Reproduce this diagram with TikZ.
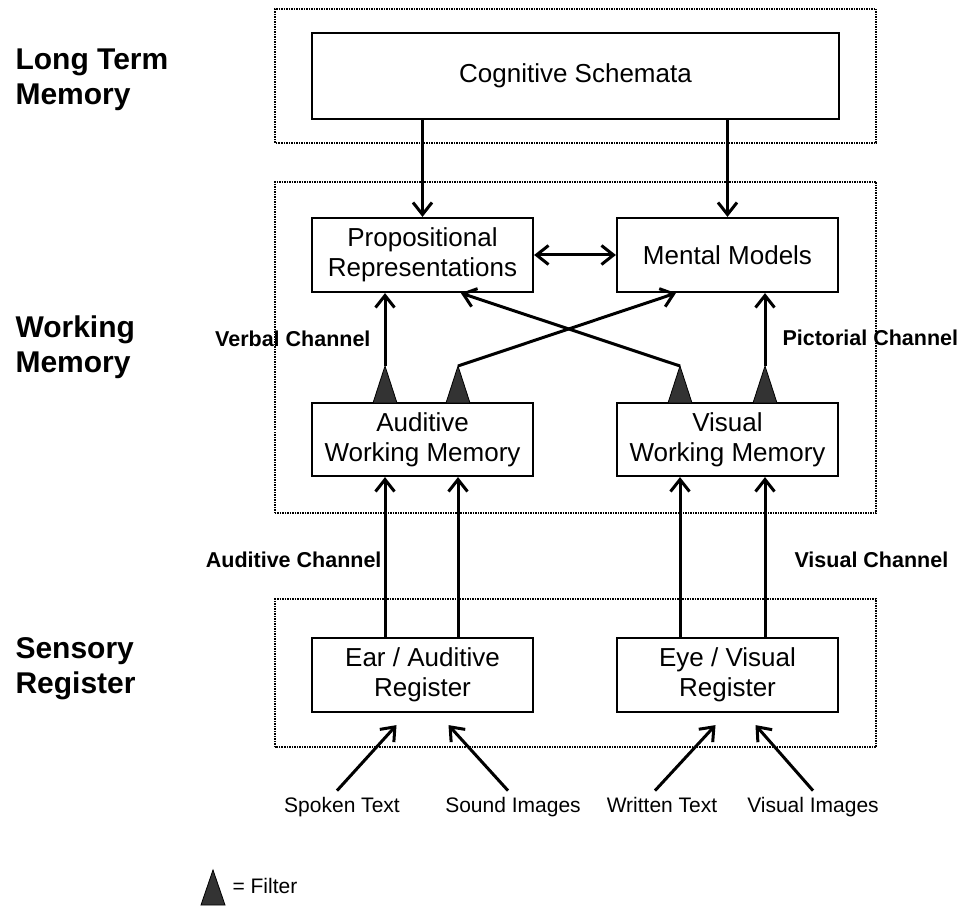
\documentclass[tikz,border=0pt]{standalone}
\usepackage{fontspec}
\setmainfont{Liberation Sans}
\usetikzlibrary{arrows.meta}

\begin{document}
\begin{tikzpicture}[
    x=1pt, y=1pt,
    >={Straight Barb[length=12pt, width=19pt]},
    box/.style={draw, line width=2.2pt, minimum width=221pt, minimum height=74pt,
      inner sep=0pt, align=center, font=\fontsize{26}{30}\selectfont},
    zone/.style={draw, densely dotted, line width=1.5pt},
    level/.style={anchor=west, align=left, font=\bfseries\fontsize{30}{35}\selectfont},
    channel/.style={font=\bfseries\fontsize{21.5}{25}\selectfont},
    source/.style={font=\fontsize{21}{25}\selectfont, text height=0.75em, text depth=0.22em},
    conn/.style={line width=3pt},
    filter/.style={fill=black!80, draw=black, line width=0.8pt}
  ]
  \useasboundingbox (0,0) rectangle (960,906);

  % memory stores
  \draw[zone] (275,763) rectangle (876,897);
  \draw[zone] (275,393) rectangle (876,724);
  \draw[zone] (275,159) rectangle (876,307);

  \node[level] (ltm) at (12,826.5) {Long Term\\Memory};
  \node[level] (wm) at (12,558.5) {Working\\Memory};
  \node[level] (sr) at (12,237) {Sensory\\Register};

  \node[box, minimum width=527pt, minimum height=86pt] (schema) at (575.5,830) {Cognitive Schemata};
  \node[box] (prop) at (422.5,651) {Propositional\\Representations};
  \node[box] (mental) at (727.5,651) {Mental Models};
  \node[box, minimum height=73pt] (audwm) at (422.5,466.5) {Auditive\\Working Memory};
  \node[box, minimum height=73pt] (viswm) at (727.5,466.5) {Visual\\Working Memory};
  \node[box] (ear) at (422.5,231) {Ear / Auditive\\Register};
  \node[box] (eye) at (727.5,231) {Eye / Visual\\Register};

  % filters on top of the working memory boxes
  \coordinate (fa1) at (385,540);
  \coordinate (fa2) at (458,540);
  \coordinate (fv1) at (680,540);
  \coordinate (fv2) at (765,540);
  \foreach \f in {fa1,fa2,fv1,fv2}
    \filldraw[filter] (\f) -- ++(-12,-37) -- ++(24,0) -- cycle;

  \path[->, conn]
    (schema.south -| prop.north) edge (prop.north)
    (schema.south -| mental.north) edge (mental.north)
    (prop.east) edge[<->] (mental.west)
    (fa1) edge (fa1 |- prop.south)
    (fa2) edge ([xshift=60pt]mental.south west)
    (fv1) edge ([xshift=150pt]prop.south west)
    (fv2) edge (fv2 |- mental.south)
    (ear.north -| fa1) edge (audwm.south -| fa1)
    (ear.north -| fa2) edge (audwm.south -| fa2)
    (eye.north -| fv1) edge (viswm.south -| fv1)
    (eye.north -| fv2) edge (viswm.south -| fv2);

  \node[channel, anchor=east] (verbal) at (374,567) {Verbal Channel};
  \node[channel, anchor=west] (pictorial) at (779,568) {Pictorial Channel};
  \node[channel, anchor=east] (audch) at (385,346) {Auditive Channel};
  \node[channel, anchor=west] (visch) at (791,346) {Visual Channel};

  % sensory input
  \node[source] (spoken) at (342,96) {Spoken Text};
  \node[source] (sound) at (513,96) {Sound Images};
  \node[source] (written) at (662,96) {Written Text};
  \node[source] (visimg) at (813,96) {Visual Images};
  \path[->, conn]
    ([xshift=-5pt,yshift=11pt]spoken.north) edge ([shift={(-26,-12)}]ear.south)
    ([xshift=-5pt,yshift=11pt]sound.north) edge ([shift={(26,-12)}]ear.south)
    ([xshift=-7pt,yshift=11pt]written.north) edge ([shift={(-12,-12)}]eye.south)
    ([yshift=11pt]visimg.north) edge ([shift={(28,-12)}]eye.south);

  % legend
  \coordinate (legend) at (213,36);
  \filldraw[filter] (legend) -- ++(-12,-35) -- ++(24,0) -- cycle;
  \node[source, anchor=west] (filterkey) at (229,15) {= Filter};
\end{tikzpicture}
\end{document}
